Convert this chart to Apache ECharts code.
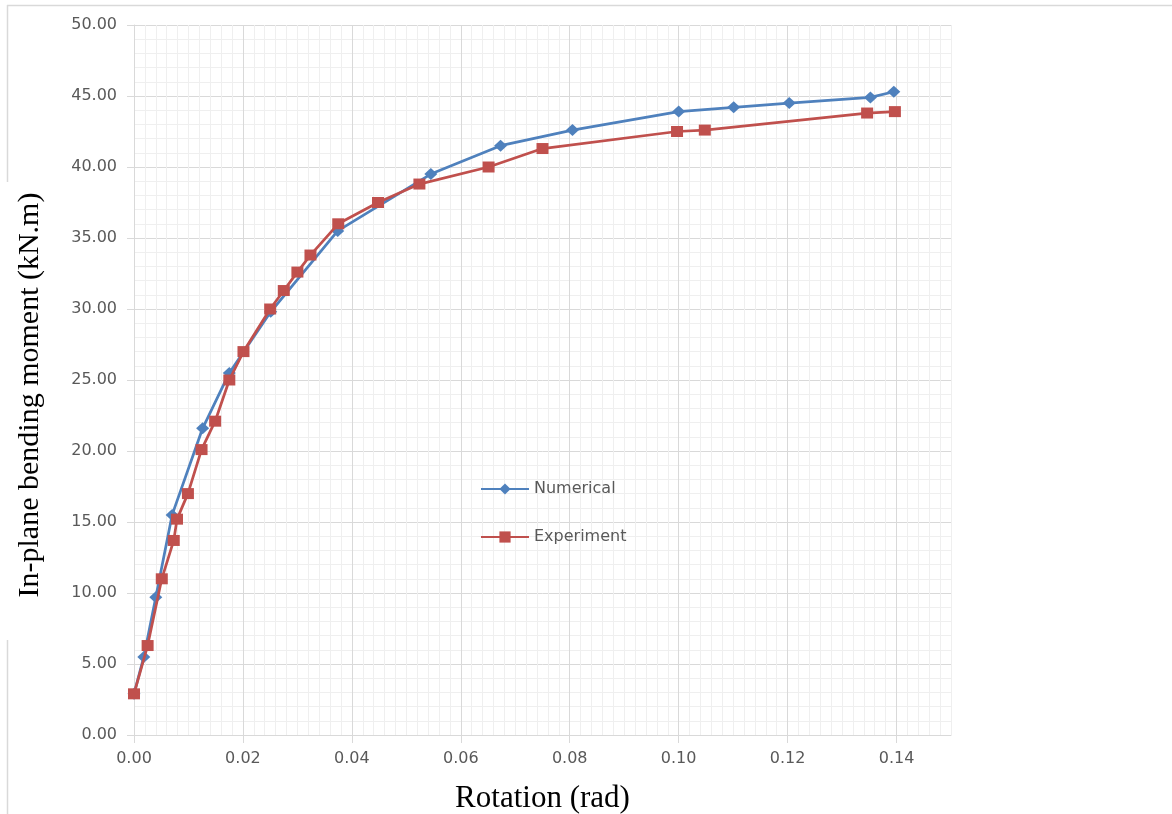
<!DOCTYPE html>
<html>
<head>
<meta charset="utf-8">
<script src="https://cdn.jsdelivr.net/npm/echarts@6/dist/echarts.min.js"></script>
<style>
html,body{margin:0;padding:0;background:#fff;}
#chart{width:1172px;height:814px;}
</style>
</head>
<body>
<div id="chart"></div>
<script>
// Data
const numericalX = [0, 0.0018, 0.0040, 0.0070, 0.0126, 0.0175, 0.0251, 0.0374, 0.0545, 0.0673, 0.0805, 0.1000, 0.1101, 0.1203, 0.1352, 0.1395];
const numericalY = [2.9, 5.5, 9.7, 15.5, 21.6, 25.5, 29.8, 35.5, 39.5, 41.5, 42.6, 43.9, 44.2, 44.5, 44.9, 45.3];
const experimentX = [0, 0.0025, 0.0051, 0.0073, 0.0079, 0.0099, 0.0124, 0.0149, 0.0175, 0.0201, 0.0250, 0.0275, 0.0300, 0.0324, 0.0375, 0.0448, 0.0524, 0.0651, 0.0750, 0.0997, 0.1048, 0.1346, 0.1397];
const experimentY = [2.9, 6.3, 11.0, 13.7, 15.2, 17.0, 20.1, 22.1, 25.0, 27.0, 30.0, 31.3, 32.6, 33.8, 36.0, 37.5, 38.8, 40.0, 41.3, 42.5, 42.6, 43.8, 43.9];
const seriesNames = ['Numerical', 'Experiment'];
const xTitle = 'Rotation (rad)';
const yTitle = 'In-plane bending moment (kN.m)';

const zip = (xs, ys) => xs.map((x, i) => [x, ys[i]]);

const chart = echarts.init(document.getElementById('chart'), null, {renderer: 'canvas'});
const major = '#d9d9d9';
const minor = '#efefef';
const labelFont = {fontFamily: 'DejaVu Sans', fontSize: 16, color: '#595959'};

chart.setOption({
  animation: false,
  backgroundColor: '#ffffff',
  grid: {left: 134, right: 221, top: 25, bottom: 79, containLabel: false, outerBoundsMode: 'none'},
  graphic: [
    {type: 'line', shape: {x1: 7, y1: 5.5, x2: 1172, y2: 5.5}, style: {stroke: '#d9d9d9', lineWidth: 1.5}, silent: true},
    {type: 'line', shape: {x1: 7.5, y1: 5, x2: 7.5, y2: 182}, style: {stroke: '#d9d9d9', lineWidth: 1.5}, silent: true},
    {type: 'line', shape: {x1: 7.5, y1: 640, x2: 7.5, y2: 814}, style: {stroke: '#d9d9d9', lineWidth: 1.5}, silent: true}
  ],
  legend: {
    orient: 'vertical',
    left: 475,
    top: 476,
    itemWidth: 48,
    itemHeight: 14,
    itemGap: 32,
    textStyle: labelFont,
    data: seriesNames
  },
  xAxis: {
    type: 'value',
    min: 0,
    max: 0.15,
    interval: 0.02,
    name: xTitle,
    nameLocation: 'middle',
    nameGap: 48,
    nameTextStyle: {fontFamily: 'Liberation Serif', fontSize: 31, color: '#000'},
    axisLine: {show: true, lineStyle: {color: major, width: 1}},
    axisTick: {show: true, length: 8, lineStyle: {color: major}},
    axisLabel: Object.assign({margin: 16, showMaxLabel: false, formatter: v => v.toFixed(2)}, labelFont),
    splitLine: {show: true, lineStyle: {color: [major, major, major, major, major, major, major, major, minor], width: 1}},
    minorTick: {show: false, splitNumber: 10},
    minorSplitLine: {show: true, lineStyle: {color: minor, width: 1}}
  },
  yAxis: {
    type: 'value',
    min: 0,
    max: 50,
    interval: 5,
    name: yTitle,
    nameLocation: 'middle',
    nameGap: 89,
    nameTextStyle: {fontFamily: 'Liberation Serif', fontSize: 30, color: '#000', padding: [0, 30, 0, 0]},
    axisLine: {show: true, lineStyle: {color: major, width: 1}},
    axisTick: {show: true, length: 7, lineStyle: {color: major}},
    axisLabel: Object.assign({margin: 17, formatter: v => v.toFixed(2)}, labelFont),
    splitLine: {show: true, lineStyle: {color: major, width: 1}},
    minorTick: {show: false, splitNumber: 5},
    minorSplitLine: {show: true, lineStyle: {color: minor, width: 1}}
  },
  series: [
    {
      name: seriesNames[0],
      type: 'line',
      data: zip(numericalX, numericalY),
      symbol: 'diamond',
      symbolSize: [13, 12],
      lineStyle: {color: '#4F81BD', width: 2.75},
      itemStyle: {color: '#4F81BD'},
      z: 2
    },
    {
      name: seriesNames[1],
      type: 'line',
      data: zip(experimentX, experimentY),
      symbol: 'rect',
      symbolSize: [12, 11],
      lineStyle: {color: '#C0504D', width: 2.75},
      itemStyle: {color: '#C0504D'},
      z: 3
    }
  ]
});
</script>
</body>
</html>
